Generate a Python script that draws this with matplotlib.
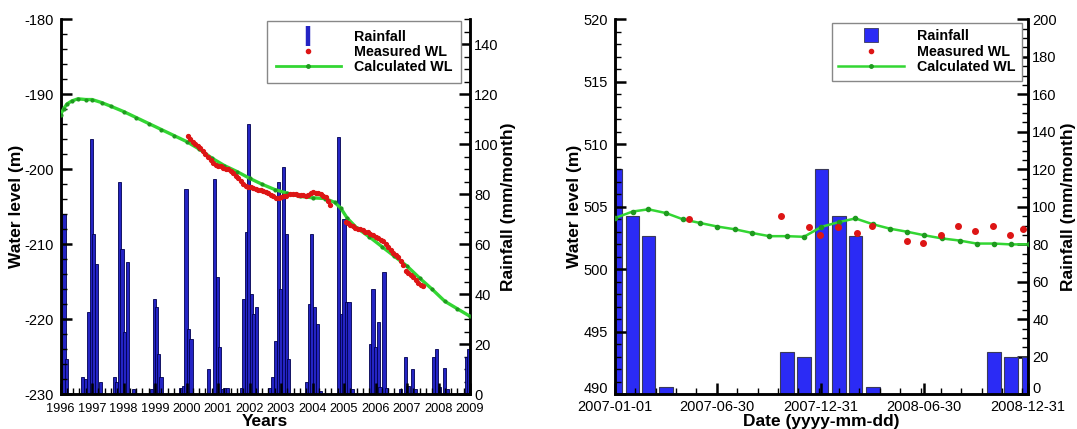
import matplotlib
matplotlib.use("Agg")
import matplotlib.pyplot as plt
import matplotlib.dates as mdates
import matplotlib.transforms as mtransforms
from matplotlib.ticker import MultipleLocator, FixedLocator, AutoMinorLocator
from matplotlib.lines import Line2D
import numpy as np

plt.rcParams['font.family'] = ['Liberation Sans', 'DejaVu Sans']
plt.rcParams['axes.unicode_minus'] = False

# ---------------- Left panel data (1996-2009) ----------------
rain_year = [1996.00, 1996.02, 1996.11, 1996.18, 1996.70, 1996.80, 1996.88, 1996.97,
             1997.05, 1997.13, 1997.28, 1997.71, 1997.79, 1997.88, 1997.95, 1998.02,
             1998.13, 1998.31, 1998.90, 1998.97, 1999.04, 1999.10, 1999.19, 1999.82,
             1999.90, 1999.98, 2000.06, 2000.14, 2000.70, 2000.90, 2000.98, 2001.05,
             2001.14, 2001.20, 2001.29, 2001.74, 2001.81, 2001.90, 2001.98, 2002.06,
             2002.12, 2002.21, 2002.63, 2002.74, 2002.82, 2002.91, 2002.98, 2003.07,
             2003.16, 2003.25, 2003.81, 2003.90, 2003.98, 2004.07, 2004.15, 2004.26,
             2004.83, 2004.93, 2005.00, 2005.09, 2005.16, 2005.26, 2005.85, 2005.92,
             2005.99, 2006.09, 2006.14, 2006.27, 2006.36, 2006.80, 2006.95, 2007.03,
             2007.18, 2007.26, 2007.85, 2007.93, 2008.03, 2008.20, 2008.28, 2008.88,
             2008.96]
rain_mm = [68, 23, 72, 14, 7, 6, 33, 102,
           64, 52, 5, 7, 5, 85, 58, 25,
           53, 2, 2, 38, 35, 16, 7, 2.5,
           3.3, 82, 26, 22, 10, 86, 47, 19,
           2, 2.6, 2.6, 2.4, 38, 65, 108, 40,
           32, 35, 2.4, 7, 21.5, 85, 42, 91,
           64, 14, 5, 36, 64, 35, 28, 1.5,
           103, 32, 70, 37, 37, 2, 20, 42,
           19, 29, 3, 49, 2.4, 2, 15, 3.3,
           10, 2, 15, 18, 3, 10.4, 2, 15,
           18]

calc_year = [1996.0, 1996.1, 1996.2, 1996.35, 1996.55, 1996.8, 1997.0, 1997.3, 1997.6,
             1998.0, 1998.4, 1998.8, 1999.2, 1999.6, 2000.0, 2000.4, 2000.8, 2001.2,
             2001.6, 2002.0, 2002.4, 2002.8, 2003.2, 2003.6, 2004.0, 2004.4, 2004.7,
             2004.9, 2005.1, 2005.4, 2005.8, 2006.2, 2006.6, 2007.0, 2007.4, 2007.8,
             2008.2, 2008.6, 2009.0]
calc_wl = [-192.7, -191.9, -191.3, -190.9, -190.6, -190.7, -190.7, -191.1, -191.6,
           -192.3, -193.1, -193.9, -194.7, -195.5, -196.3, -197.3, -198.5, -199.5,
           -200.3, -201.2, -202.0, -202.7, -203.2, -203.6, -203.8, -203.9, -204.4,
           -205.2, -206.5, -207.8, -209.0, -210.3, -211.6, -212.9, -214.5, -216.0,
           -217.6, -218.6, -219.6]

meas_year = [2000.05, 2000.12, 2000.20, 2000.28, 2000.36, 2000.44, 2000.52, 2000.60,
             2000.68, 2000.76, 2000.84, 2000.92, 2001.00, 2001.08, 2001.16, 2001.24,
             2001.32, 2001.40, 2001.48, 2001.56, 2001.64, 2001.72, 2001.80, 2001.88,
             2001.96, 2002.04, 2002.12, 2002.20, 2002.28, 2002.36, 2002.44, 2002.52,
             2002.60, 2002.68, 2002.76, 2002.84, 2002.92, 2003.00, 2003.08, 2003.16,
             2003.30, 2003.38, 2003.46, 2003.54, 2003.62, 2003.70, 2003.78, 2003.86,
             2003.94, 2004.02, 2004.10, 2004.18, 2004.26, 2004.34, 2004.42, 2004.50,
             2004.56,
             2005.05, 2005.12, 2005.20, 2005.28, 2005.36, 2005.44, 2005.52, 2005.60,
             2005.68, 2005.76, 2005.84, 2005.92, 2006.00, 2006.08, 2006.16, 2006.24,
             2006.32, 2006.40, 2006.48, 2006.56, 2006.64, 2006.72, 2006.80, 2006.88,
             2006.96, 2007.04, 2007.12, 2007.20, 2007.28, 2007.36, 2007.44, 2007.50]
meas_wl = [-195.6, -195.9, -196.3, -196.6, -196.9, -197.2, -197.5, -197.9,
           -198.3, -198.8, -199.2, -199.4, -199.5, -199.6, -199.8, -199.9,
           -200.0, -200.2, -200.5, -200.9, -201.2, -201.6, -202.0, -202.2,
           -202.3, -202.4, -202.5, -202.6, -202.7, -202.8, -202.9, -203.0,
           -203.2, -203.4, -203.6, -203.8, -203.8, -203.7, -203.6, -203.5,
           -203.3, -203.3, -203.3, -203.4, -203.4, -203.4, -203.5, -203.4,
           -203.2, -203.0, -203.1, -203.2, -203.3, -203.5, -203.7, -204.2,
           -204.7,
           -207.0, -207.2, -207.4, -207.6, -207.8, -207.9, -208.0, -208.1,
           -208.3, -208.4, -208.6, -208.8, -209.0, -209.2, -209.4, -209.6,
           -209.9, -210.3, -210.7, -211.1, -211.4, -211.7, -212.2, -212.8,
           -213.5, -213.8, -214.1, -214.4, -214.8, -215.1, -215.4, -215.6]

year_ticks = list(range(1996, 2010))

# ---------------- Right panel data (2007-2008) ----------------
rain2_date = ['2007-01-01', '2007-02-01', '2007-03-01', '2007-04-01',
              '2007-11-01', '2007-12-01', '2008-01-01', '2008-02-01',
              '2008-03-01', '2008-04-01', '2008-11-01', '2008-12-01', '2009-01-01']
rain2_mm = [120, 95, 84.5, 3.7, 22.5, 19.7, 120, 95, 84.5, 3.7, 22.5, 19.7, 19.7]

calc2_date = ['2007-01-01', '2007-02-01', '2007-03-01', '2007-04-01', '2007-05-01',
              '2007-06-01', '2007-07-01', '2007-08-01', '2007-09-01', '2007-10-01',
              '2007-11-01', '2007-12-01', '2008-01-01', '2008-02-01', '2008-03-01',
              '2008-04-01', '2008-05-01', '2008-06-01', '2008-07-01', '2008-08-01',
              '2008-09-01', '2008-10-01', '2008-11-01', '2008-12-01', '2009-01-01']
calc2_wl = [504.1, 504.62, 504.8, 504.5, 504.0, 503.7, 503.42, 503.2, 502.9, 502.65,
            502.65, 502.6, 503.4, 503.78, 504.07, 503.6, 503.25, 503.0, 502.72, 502.47,
            502.3, 502.06, 502.06, 501.99, 502.0]

meas2_date = ['2007-05-11', '2007-10-21', '2007-12-10', '2007-12-30', '2008-01-31',
              '2008-03-03', '2008-03-31', '2008-06-01', '2008-06-29', '2008-07-30',
              '2008-08-29', '2008-09-29', '2008-10-30', '2008-11-29', '2008-12-23']
meas2_wl = [504.05, 504.24, 503.4, 502.72, 503.42, 502.88, 503.5, 502.3, 502.1, 502.78,
            503.46, 503.07, 503.46, 502.72, 503.25]

date_ticks = ['2007-01-01', '2007-06-30', '2007-12-31', '2008-06-30', '2008-12-31']

# ---------------- Styles ----------------
BAR1 = '#2424c4'
BAR1_EDGE = '#000050'
BAR2 = '#2b2bf5'
BAR2_EDGE = '#3a3a5a'
GREEN = '#33d633'
GREEN_MK = '#1f9a1f'
RED = '#dd1515'
TICK_FS = 10.5
XTICK_FS_L = 9.2
LAB_FS = 12.5
LEG_FS = 10.3

fig = plt.figure(figsize=(10.77, 4.29), dpi=100)
H = 429.0
W = 1077.0
bottom = 1 - 394.3 / H
height = 375.0 / H


def style_axes(ax, ax2, xpad):
    for a in (ax, ax2):
        a.spines['top'].set_visible(False)
        for s in ('left', 'right', 'bottom'):
            a.spines[s].set_linewidth(1.8)
    ax.tick_params(which='major', direction='in', length=8, width=1.8,
                   labelsize=TICK_FS, top=False, right=False)
    ax.tick_params(which='minor', direction='in', length=4, width=1.0,
                   top=False, right=False)
    ax.tick_params(axis='y', which='major', pad=5)
    ax.tick_params(axis='x', which='major', pad=xpad)
    ax2.tick_params(which='major', direction='in', length=8, width=1.8,
                    labelsize=TICK_FS, pad=3)
    ax2.tick_params(which='minor', direction='in', length=4, width=1.0)
    ax.set_zorder(ax2.get_zorder() + 1)
    ax.patch.set_visible(False)


# ---------------- Left panel ----------------
axL = fig.add_axes([60.6 / W, bottom, 409.4 / W, height])
axL2 = axL.twinx()
style_axes(axL, axL2, 6)

axL2.bar(rain_year, rain_mm, width=0.1, color=BAR1, edgecolor=BAR1_EDGE,
         linewidth=0.6, zorder=2)
axL2.set_ylim(0, 150)
axL2.yaxis.set_major_locator(MultipleLocator(20))
axL2.yaxis.set_minor_locator(MultipleLocator(5))

axL.plot(calc_year, calc_wl, color=GREEN, lw=2.4, marker='o', ms=2,
         mfc=GREEN_MK, mec=GREEN_MK, zorder=3)
axL.plot(meas_year, meas_wl, ls='none', marker='o', ms=2.8, color=RED, zorder=4)
axL.set_xlim(1996, 2009)
axL.set_ylim(-230, -180)
axL.xaxis.set_major_locator(FixedLocator(year_ticks))
axL.xaxis.set_minor_locator(MultipleLocator(0.2))
axL.set_xticklabels([str(y) for y in year_ticks], fontsize=XTICK_FS_L)
axL.yaxis.set_major_locator(MultipleLocator(10))
axL.yaxis.set_minor_locator(MultipleLocator(2))

axL.set_xlabel('Years', fontsize=LAB_FS, fontweight='bold')
axL.set_ylabel('Water level (m)', fontsize=LAB_FS, fontweight='bold')
axL2.set_ylabel('Rainfall (mm/month)', fontsize=LAB_FS, fontweight='bold', rotation=90)
axL.yaxis.set_label_coords((16.5 - 60.6) / 409.4, 0.5)
axL2.yaxis.set_label_coords((508 - 60.6) / 409.4, 0.5)
axL.xaxis.set_label_coords(0.5, (394.3 - 422.0) / 375.0)
for lab in (axL.yaxis.label, axL2.yaxis.label, axL.xaxis.label):
    lab.set_va('center')
    lab.set_ha('center')

hL = [Line2D([], [], ls='none', marker='|', ms=15, mew=3.2, color=BAR1),
      Line2D([], [], ls='none', marker='o', ms=3, color=RED),
      Line2D([], [], color=GREEN, lw=2, marker='o', ms=2.5, mfc=GREEN_MK, mec=GREEN_MK)]
legL = axL.legend(hL, ['Rainfall', 'Measured WL', 'Calculated WL'],
                  loc='upper left', bbox_to_anchor=(267 / W, 1 - 21 / H),
                  bbox_transform=fig.transFigure, borderaxespad=0,
                  prop={'weight': 'bold', 'size': LEG_FS}, frameon=True,
                  fancybox=False, edgecolor='#888888', framealpha=1,
                  handlelength=4.6, handletextpad=0.9, borderpad=0.6,
                  labelspacing=0.1, numpoints=1)
legL.get_frame().set_linewidth(1.0)

# ---------------- Right panel ----------------
axR = fig.add_axes([615 / W, bottom, 413 / W, height])
axR2 = axR.twinx()
style_axes(axR, axR2, 4)

r2x = mdates.datestr2num(rain2_date)
axR2.bar(r2x, rain2_mm, width=24, color=BAR2, edgecolor=BAR2_EDGE,
         linewidth=0.8, zorder=2)
axR2.set_ylim(0, 200)
axR2.yaxis.set_major_locator(MultipleLocator(20))
axR2.yaxis.set_minor_locator(MultipleLocator(5))

axR.plot(mdates.datestr2num(calc2_date), calc2_wl, color=GREEN, lw=1.8,
         marker='o', ms=3, mfc=GREEN_MK, mec=GREEN_MK, zorder=3, clip_on=True)
axR.plot(mdates.datestr2num(meas2_date), meas2_wl, ls='none', marker='o', ms=4,
         color=RED, zorder=4)
axR.set_xlim(mdates.datestr2num('2007-01-01'), mdates.datestr2num('2008-12-31'))
axR.set_ylim(490, 520)
tick_nums = mdates.datestr2num(date_ticks)
axR.xaxis.set_major_locator(FixedLocator(tick_nums))
axR.xaxis.set_minor_locator(AutoMinorLocator(5))
axR.set_xticklabels(date_ticks)
axR.yaxis.set_major_locator(MultipleLocator(5))
axR.yaxis.set_minor_locator(MultipleLocator(1))

axR.set_xlabel('Date (yyyy-mm-dd)', fontsize=LAB_FS, fontweight='bold')
axR.set_ylabel('Water level (m)', fontsize=LAB_FS, fontweight='bold')
axR2.set_ylabel('Rainfall (mm/month)', fontsize=LAB_FS, fontweight='bold', rotation=90)
axR.yaxis.set_label_coords((574 - 615) / 413.0, 0.5)
axR2.yaxis.set_label_coords((1068 - 615) / 413.0, 0.5)
axR.xaxis.set_label_coords(0.5, (394.3 - 421.5) / 375.0)
for lab in (axR.yaxis.label, axR2.yaxis.label, axR.xaxis.label):
    lab.set_va('center')
    lab.set_ha('center')

hR = [Line2D([], [], ls='none', marker='s', ms=10, color=BAR2, mec=BAR2_EDGE, mew=0.6),
      Line2D([], [], ls='none', marker='o', ms=3, color=RED),
      Line2D([], [], color=GREEN, lw=1.8, marker='o', ms=2.5, mfc=GREEN_MK, mec=GREEN_MK)]
legR = axR.legend(hR, ['Rainfall', 'Measured WL', 'Calculated WL'],
                  loc='upper left', bbox_to_anchor=(832 / W, 1 - 23 / H),
                  bbox_transform=fig.transFigure, borderaxespad=0,
                  prop={'weight': 'bold', 'size': LEG_FS}, frameon=True,
                  fancybox=False, edgecolor='#888888', framealpha=1,
                  handlelength=4.6, handletextpad=0.9, borderpad=0.45,
                  labelspacing=0.1, numpoints=1)
legR.get_frame().set_linewidth(1.0)

# lift the lowest y tick labels of the right panel slightly so they clear the dates
fig.canvas.draw()
lift = mtransforms.ScaledTranslation(0, 5.0 / 72.0, fig.dpi_scale_trans)
for yax, bottom_text in ((axR.yaxis, '490'), (axR2.yaxis, '0')):
    for tick in yax.get_major_ticks():
        for lab in (tick.label1, tick.label2):
            if lab.get_text() == bottom_text:
                lab.set_transform(lab.get_transform() + lift)

fig.savefig('out.png', dpi=100)
